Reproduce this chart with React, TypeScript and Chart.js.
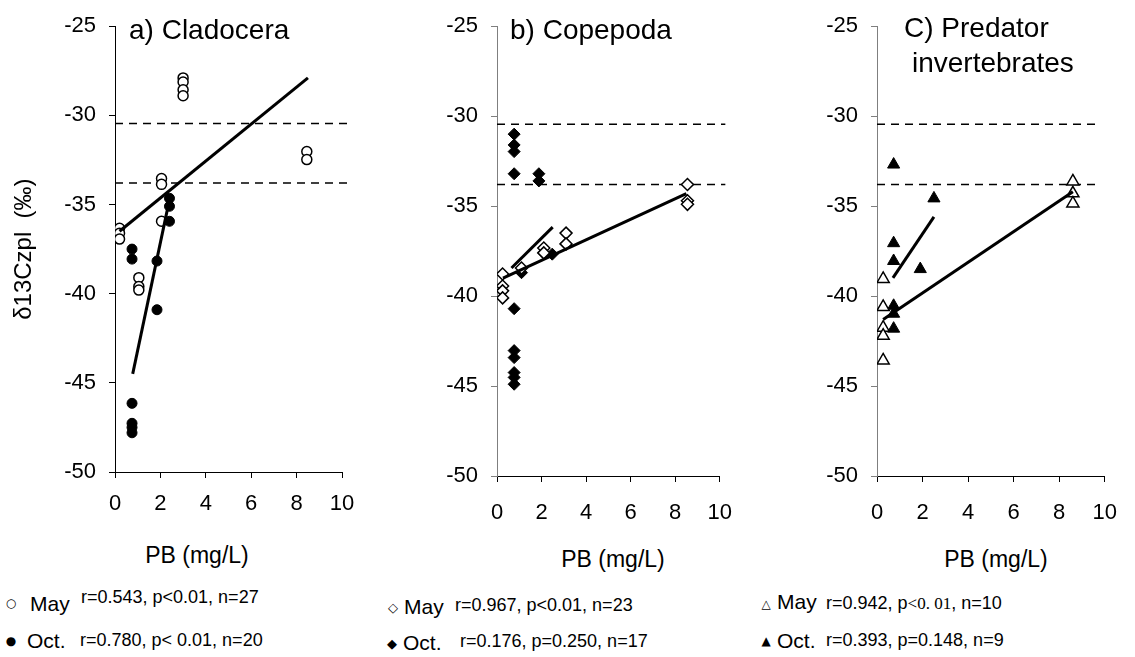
import React, { useEffect, useRef } from "react";
import { Chart, registerables } from "chart.js";
Chart.register(...registerables);

const FONT = '"Liberation Sans", Arial, Helvetica, sans-serif';

// ---- axes ----
const xMin = 0;
const xMax = 10;
const xStep = 2;
const yMin = -50;
const yMax = -25;
const yStep = 5;
const refLevels = [-30.45, -33.8];

// ---- a) Cladocera ----
const cladMayX = [0.2, 0.2, 0.2, 1.05, 1.05, 1.05, 2.05, 2.05, 2.05, 3.0, 3.0, 3.0, 3.0, 8.45, 8.45];
const cladMayY = [-36.33, -36.61, -36.94, -39.1, -39.6, -39.8, -33.54, -33.87, -35.94, -27.9, -28.13, -28.57, -28.9, -32.03, -32.48];
const cladOctX = [0.75, 0.75, 0.75, 0.75, 0.75, 0.75, 1.85, 1.85, 2.4, 2.4, 2.4];
const cladOctY = [-37.5, -38.06, -46.15, -47.27, -47.5, -47.8, -38.17, -40.9, -34.65, -35.1, -35.94];
const cladMayFitX = [0.2, 8.5];
const cladMayFitY = [-36.5, -27.9];
const cladOctFitX = [0.78, 2.42];
const cladOctFitY = [-44.5, -34.6];

// ---- b) Copepoda ----
const copeMayX = [0.25, 0.25, 0.25, 0.25, 1.1, 2.1, 2.1, 3.1, 3.1, 8.55, 8.55, 8.55];
const copeMayY = [-38.77, -39.44, -39.71, -40.1, -38.44, -37.33, -37.6, -36.5, -37.1, -33.8, -34.7, -34.9];
const copeOctX = [0.77, 0.77, 0.77, 0.77, 0.77, 0.77, 0.77, 0.77, 0.77, 0.77, 1.88, 1.88, 1.1, 2.48];
const copeOctY = [-31.0, -31.6, -31.97, -33.2, -40.7, -43.03, -43.42, -44.25, -44.52, -44.9, -33.2, -33.6, -38.7, -37.67];
const copeMayFitX = [0.27, 8.5];
const copeMayFitY = [-39.0, -34.3];
const copeOctFitX = [0.65, 2.5];
const copeOctFitY = [-38.44, -36.17];

// ---- c) Predator invertebrates ----
const predMayX = [0.27, 0.27, 0.27, 0.27, 0.27, 8.6, 8.6, 8.6];
const predMayY = [-39.05, -40.6, -41.76, -42.2, -43.58, -33.63, -34.29, -34.85];
const predOctX = [0.73, 0.73, 0.73, 0.73, 0.73, 0.73, 1.9, 2.5];
const predOctY = [-32.69, -37.06, -38.05, -40.54, -40.98, -41.81, -38.5, -34.57];
const predMayFitX = [0.27, 8.6];
const predMayFitY = [-41.3, -34.2];
const predOctFitX = [0.7, 2.5];
const predOctFitY = [-38.99, -35.6];

// ---- text ----
const panelTitles = ["a) Cladocera", "b) Copepoda", "C) Predator", "invertebrates"];
const xTitle = "PB (mg/L)";
const yTitle = "δ13Czpl  (‰)";
const seasonLabels = ["May", "Oct."];
const statsA = ["r=0.543, p<0.01, n=27", "r=0.780, p< 0.01, n=20"];
const statsB = ["r=0.967, p<0.01, n=23", "r=0.176, p=0.250, n=17"];
const statsC = ["r=0.942, p", "<0. 01", ", n=10", "r=0.393, p=0.148, n=9"];

const pts = (xs: number[], ys: number[]) => xs.map((x, i) => ({ x, y: ys[i] }));

type PanelSpec = {
  left: number;
  width: number;
  height: number;
  yWidth: number;
  padRight: number;
  bottom: number;
  xPad: number;
  yAxisColor: string;
  showYTitle: boolean;
  pointStyle: "circle" | "rectRot" | "triangle";
  radius: number;
  mayX: number[];
  mayY: number[];
  octX: number[];
  octY: number[];
  mayFitX: number[];
  mayFitY: number[];
  octFitX: number[];
  octFitY: number[];
  dashEnd: number;
};

const panels: PanelSpec[] = [
  {
    left: 0, width: 370, height: 530, yWidth: 115, padRight: 28, bottom: 472, xPad: 13,
    yAxisColor: "#000", showYTitle: true, pointStyle: "circle", radius: 5,
    mayX: cladMayX, mayY: cladMayY, octX: cladOctX, octY: cladOctY,
    mayFitX: cladMayFitX, mayFitY: cladMayFitY, octFitX: cladOctFitX, octFitY: cladOctFitY,
    dashEnd: 10.35,
  },
  {
    left: 372, width: 378, height: 530, yWidth: 125, padRight: 19, bottom: 476, xPad: 18,
    yAxisColor: "#7f7f7f", showYTitle: false, pointStyle: "rectRot", radius: 6,
    mayX: copeMayX, mayY: copeMayY, octX: copeOctX, octY: copeOctY,
    mayFitX: copeMayFitX, mayFitY: copeMayFitY, octFitX: copeOctFitX, octFitY: copeOctFitY,
    dashEnd: 10.25,
  },
  {
    left: 755, width: 380, height: 530, yWidth: 122, padRight: 24, bottom: 476, xPad: 18,
    yAxisColor: "#7f7f7f", showYTitle: false, pointStyle: "triangle", radius: 7,
    mayX: predMayX, mayY: predMayY, octX: predOctX, octY: predOctY,
    mayFitX: predMayFitX, mayFitY: predMayFitY, octFitX: predOctFitX, octFitY: predOctFitY,
    dashEnd: 9.7,
  },
];

function PanelChart({ spec }: { spec: PanelSpec }) {
  const ref = useRef<HTMLCanvasElement>(null);
  useEffect(() => {
    if (!ref.current) return;
    const line = (xs: number[], ys: number[]) => ({
      type: "line" as const,
      data: pts(xs, ys),
      borderColor: "#000",
      borderWidth: 3,
      pointRadius: 0,
      showLine: true,
      fill: false,
    });
    const dash = (lv: number) => ({
      type: "line" as const,
      data: [{ x: 0, y: lv }, { x: spec.dashEnd, y: lv }],
      borderColor: "#000",
      borderWidth: 1.5,
      borderDash: [8, 6],
      pointRadius: 0,
      showLine: true,
      fill: false,
      clip: false as any,
    });
    const chart = new Chart(ref.current, {
      type: "scatter",
      data: {
        datasets: [
          line(spec.mayFitX, spec.mayFitY),
          line(spec.octFitX, spec.octFitY),
          {
            type: "scatter",
            data: pts(spec.mayX, spec.mayY),
            pointStyle: spec.pointStyle,
            pointRadius: spec.radius,
            backgroundColor: "#fff",
            borderColor: "#000",
            borderWidth: 1.5,
          },
          {
            type: "scatter",
            data: pts(spec.octX, spec.octY),
            pointStyle: spec.pointStyle,
            pointRadius: spec.radius,
            backgroundColor: "#000",
            borderColor: "#000",
            borderWidth: 1,
          },
          dash(refLevels[0]),
          dash(refLevels[1]),
        ] as any,
      },
      options: {
        animation: false,
        responsive: false,
        maintainAspectRatio: false,
        devicePixelRatio: 1,
        events: [],
        layout: { padding: { top: 24, right: spec.padRight, left: 0, bottom: 0 } },
        plugins: { legend: { display: false }, tooltip: { enabled: false }, title: { display: false } },
        scales: {
          x: {
            type: "linear",
            min: xMin,
            max: xMax,
            grid: { display: true, drawOnChartArea: false, drawTicks: true, tickLength: 6, tickColor: "#000", tickWidth: 1 },
            border: { display: true, color: "#000", width: 1 },
            ticks: { stepSize: xStep, font: { family: FONT, size: 22 }, color: "#000", padding: spec.xPad, maxRotation: 0, autoSkip: false },
            afterFit: (s: any) => { s.height = spec.height - spec.bottom; },
          },
          y: {
            type: "linear",
            min: yMin,
            max: yMax,
            grid: { display: true, drawOnChartArea: false, drawTicks: true, tickLength: 6, tickColor: spec.yAxisColor, tickWidth: 1 },
            border: { display: true, color: spec.yAxisColor, width: 1 },
            ticks: { stepSize: yStep, font: { family: FONT, size: 22 }, color: "#000", padding: 13, autoSkip: false },
            title: { display: spec.showYTitle, text: yTitle, font: { family: FONT, size: 24 }, color: "#000", padding: { top: 10, bottom: 0 } },
            afterFit: (s: any) => { s.width = spec.yWidth; },
          },
        },
      } as any,
    });
    return () => chart.destroy();
  }, [spec]);
  return (
    <canvas
      ref={ref}
      width={spec.width}
      height={spec.height}
      style={{ position: "absolute", left: spec.left, top: 0, width: spec.width, height: spec.height }}
    />
  );
}

// text helper: positions by baseline with line-height 1
function T({ x, y, size, children, family, anchor }: { x: number; y: number; size: number; children: React.ReactNode; family?: string; anchor?: "start" | "middle" }) {
  const top = y - 0.8465 * size;
  const style: React.CSSProperties = {
    position: "absolute",
    top,
    left: x,
    fontSize: size,
    lineHeight: 1,
    fontFamily: family || FONT,
    whiteSpace: "pre",
    color: "#000",
    transform: anchor === "middle" ? "translateX(-50%)" : undefined,
  };
  return <div style={style}>{children}</div>;
}

function Sym({ x, y, ch, size }: { x: number; y: number; ch: string; size: number }) {
  return (
    <div
      style={{
        position: "absolute",
        left: x,
        top: y,
        transform: "translate(-50%,-50%)",
        fontSize: size,
        lineHeight: 1,
        fontFamily: '"DejaVu Sans", sans-serif',
        color: "#000",
      }}
    >
      {ch}
    </div>
  );
}

export default function App() {
  useEffect(() => {
    document.body.style.margin = "0";
    document.body.style.background = "#fff";
  }, []);
  return (
    <div style={{ position: "relative", width: 1135, height: 657, background: "#fff", overflow: "hidden" }}>
      {panels.map((p, i) => (
        <PanelChart key={i} spec={p} />
      ))}
      <T x={129} y={40} size={28}>{panelTitles[0]}</T>
      <T x={510} y={40} size={28}>{panelTitles[1]}</T>
      <T x={904} y={38} size={28}>{panelTitles[2]}</T>
      <T x={912} y={73} size={28}>{panelTitles[3]}</T>

      <T x={197} y={563} size={23} anchor="middle">{xTitle}</T>
      <T x={613} y={567} size={23} anchor="middle">{xTitle}</T>
      <T x={996} y={567} size={23} anchor="middle">{xTitle}</T>

      <Sym x={11} y={603} ch="○" size={12} />
      <T x={30} y={611} size={21}>{seasonLabels[0]}</T>
      <T x={81} y={603} size={18}>{statsA[0]}</T>
      <Sym x={11} y={641} ch="●" size={12} />
      <T x={27} y={648} size={21}>{seasonLabels[1]}</T>
      <T x={80} y={646} size={18}>{statsA[1]}</T>

      <Sym x={393} y={607} ch="◇" size={13} />
      <T x={404} y={614} size={21}>{seasonLabels[0]}</T>
      <T x={455} y={611} size={18}>{statsB[0]}</T>
      <Sym x={392} y={643} ch="◆" size={13} />
      <T x={403} y={650} size={21}>{seasonLabels[1]}</T>
      <T x={460} y={647} size={18}>{statsB[1]}</T>

      <Sym x={766} y={604} ch="△" size={12} />
      <T x={777} y={609} size={21}>{seasonLabels[0]}</T>
      <T x={826} y={609} size={18}>
        {statsC[0]}
        <span style={{ fontFamily: '"Liberation Serif", serif', fontSize: 17 }}>{statsC[1]}</span>
        {statsC[2]}
      </T>
      <Sym x={766} y={641} ch="▲" size={12} />
      <T x={777} y={648} size={21}>{seasonLabels[1]}</T>
      <T x={826} y={646} size={18}>{statsC[3]}</T>
    </div>
  );
}
